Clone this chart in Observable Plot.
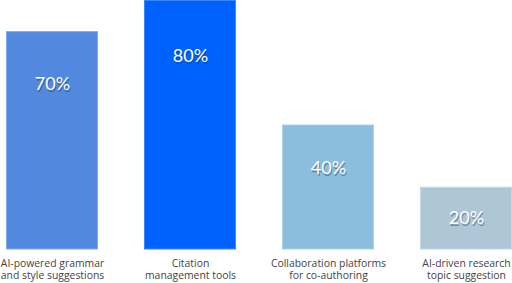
<!DOCTYPE html>
<html>
<head>
<meta charset="utf-8">
<script src="https://cdn.jsdelivr.net/npm/d3@7"></script>
<script src="https://cdn.jsdelivr.net/npm/@observablehq/plot@0.6"></script>
<style>
  html, body { margin: 0; padding: 0; background: #fff; }
  #chart svg { display: block; }
</style>
</head>
<body>
<div id="chart"></div>
<script>
const categories = [
  "AI-powered grammar\nand style suggestions",
  "Citation\nmanagement tools",
  "Collaboration platforms\nfor co-authoring",
  "AI-driven research\ntopic suggestion"
];
const values = [70, 80, 40, 20];
const colors = ["#5289df", "#0062fe", "#8bbddd", "#aec6d6"];
const edgeColors = ["#7eaaea", "#3d86ff", "#a9cfe7", "#c4d6e2"];

const data = categories.map((c, i) => ({
  category: c,
  value: values[i],
  color: colors[i],
  edge: edgeColors[i],
  label: values[i] + "%",
  labelY: Math.max(values[i] * 0.9 - 10, values[i] / 2)
}));

const chart = Plot.plot({
  width: 512,
  height: 283,
  marginTop: 0,
  marginLeft: 6,
  marginRight: 0,
  marginBottom: 34,
  style: { background: "#fff" },
  x: { domain: categories, paddingInner: 1 / 3, paddingOuter: 0, label: null },
  y: { domain: [0, 80], axis: null },
  marks: [
    Plot.barY(data, { x: "category", y: "value", fill: "color", stroke: "edge", strokeWidth: 1, insetLeft: 0.5, insetRight: 0.5, insetTop: 0.5 }),
    Plot.text(data, { x: "category", y: "labelY", text: "label", fill: "rgba(30,40,70,0.4)", dx: 1, dy: 1.5, fontSize: 18, fontFamily: "Lato", lineAnchor: "middle" }),
    Plot.text(data, { x: "category", y: "labelY", text: "label", fill: "#fff", fontSize: 18, fontFamily: "Lato", lineAnchor: "middle" }),
    Plot.axisX({ tickSize: 0, tickPadding: 9, fontSize: 10.4, fontFamily: "Open Sans", color: "#444", lineHeight: 1.15, label: null })
  ]
});
document.getElementById("chart").appendChild(chart);
</script>
</body>
</html>
